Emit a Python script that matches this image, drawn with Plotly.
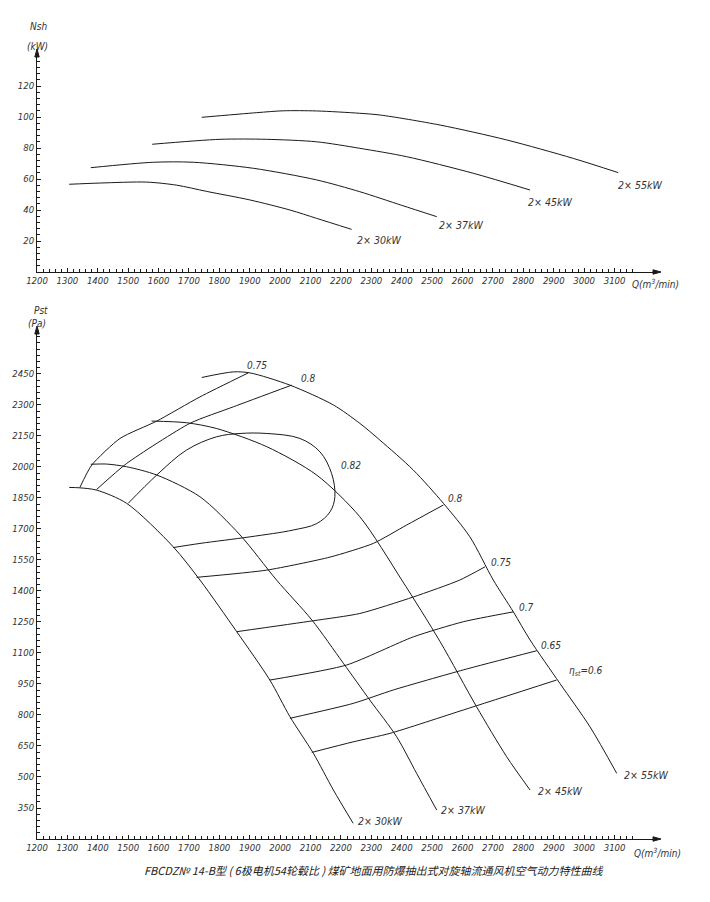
import plotly.graph_objects as go

# ---------------- data: shaft power Nsh (kW) vs Q (m3/min) ----------------
q30_n = [1306, 1408, 1561, 1660, 1758, 1900, 2032, 2120, 2235]
n30 = [56.6, 57.4, 58.0, 56.0, 52.0, 46.5, 40.0, 34.6, 27.5]
q37_n = [1377, 1583, 1714, 1912, 2120, 2262, 2400, 2515]
n37 = [67.3, 70.8, 70.8, 66.9, 59.4, 51.8, 43.0, 35.7]
q45_n = [1579, 1802, 1955, 2120, 2262, 2416, 2635, 2822]
n45 = [82.4, 85.6, 85.6, 84.0, 79.8, 74.4, 63.7, 52.9]
q55_n = [1742, 1923, 2010, 2120, 2262, 2328, 2526, 2745, 2964, 3112]
n55 = [99.8, 102.8, 104.0, 103.9, 102.4, 101.3, 94.8, 85.2, 73.3, 64.1]

# ---------------- data: static pressure Pst (Pa) vs Q ----------------
q30_p = [1306, 1341, 1396, 1495, 1648, 1736, 1857, 1966, 2032, 2109, 2175, 2240]
p30 = [1901, 1899, 1888, 1824, 1614, 1453, 1203, 969, 792, 615, 437, 276]
q37_p = [1377, 1429, 1495, 1594, 1736, 1868, 1988, 2104, 2208, 2295, 2383, 2449, 2515]
p37 = [2013, 2014, 2001, 1961, 1856, 1671, 1453, 1260, 1050, 872, 695, 517, 340]
q45_p = [1577, 1692, 1791, 1956, 2120, 2262, 2400, 2526, 2646, 2745, 2822]
p45 = [2222, 2214, 2186, 2098, 1961, 1759, 1453, 1155, 840, 598, 437]
q55_p = [1742, 1846, 1901, 2032, 2175, 2262, 2328, 2438, 2537, 2624, 2701, 2767, 2822, 2920, 3019, 3107]
p55 = [2433, 2460, 2455, 2396, 2300, 2211, 2130, 1985, 1824, 1662, 1453, 1299, 1163, 953, 743, 518]

# efficiency iso-lines
q_e75a = [1341, 1380, 1473, 1594, 1736, 1895]
p_e75a = [1901, 2009, 2138, 2222, 2339, 2455]
q_e80a = [1396, 1495, 1703, 1846, 2038]
p_e80a = [1891, 2017, 2211, 2291, 2396]
q_e82 = [1500, 1594, 1692, 1791, 1868, 1956, 2065, 2131, 2169, 2180, 2164, 2120, 2043, 1901, 1736, 1648]
p_e82 = [1824, 1961, 2082, 2146, 2162, 2162, 2138, 2073, 1969, 1856, 1783, 1726, 1695, 1662, 1630, 1610]
q_e80b = [1725, 1956, 2164, 2306, 2416, 2537]
p_e80b = [1466, 1501, 1564, 1630, 1719, 1816]
q_e75b = [1857, 2109, 2262, 2438, 2591, 2674]
p_e75b = [1203, 1256, 1291, 1371, 1453, 1517]
q_e70 = [1966, 2219, 2438, 2602, 2767]
p_e70 = [969, 1042, 1178, 1251, 1299]
q_e65 = [2032, 2240, 2372, 2602, 2844]
p_e65 = [784, 856, 921, 1018, 1111]
q_e60 = [2104, 2240, 2361, 2602, 2909]
p_e60 = [619, 670, 711, 824, 969]

x_ticks = list(range(1200, 3200, 100))
n_ticks = list(range(20, 140, 20))
p_ticks = list(range(350, 2600, 150))

power_labels = ["2× 30kW", "2× 37kW", "2× 45kW", "2× 55kW"]
eff_labels = ["0.75", "0.8", "0.82", "0.8", "0.75", "0.7", "0.65", "η<sub>st</sub>=0.6"]
title_text = "FBCDZ№ 14-B型 ( 6极电机54轮毂比 ) 煤矿地面用防爆抽出式对旋轴流通风机空气动力特性曲线"

# ---------------- figure ----------------
W, H = 710, 902
def px(x, y):
    return x / W, 1 - y / H

INK = "#1a1a1a"
FONT = "Liberation Sans Narrow, DejaVu Sans Condensed, Liberation Sans, sans-serif"

fig = go.Figure()

def add_line(q, v, ax, smooth=0.8):
    fig.add_trace(go.Scatter(
        x=q, y=v, mode="lines", xaxis="x" if ax == 1 else "x2", yaxis="y" if ax == 1 else "y2",
        line=dict(color=INK, width=1, shape="spline", smoothing=smooth),
        hoverinfo="skip", showlegend=False))

for q, v in [(q30_n, n30), (q37_n, n37), (q45_n, n45), (q55_n, n55)]:
    add_line(q, v, 1)
for q, v in [(q30_p, p30), (q37_p, p37), (q45_p, p45), (q55_p, p55)]:
    add_line(q, v, 2)
for q, v in [(q_e75a, p_e75a), (q_e80a, p_e80a), (q_e80b, p_e80b), (q_e75b, p_e75b),
             (q_e70, p_e70), (q_e65, p_e65), (q_e60, p_e60)]:
    add_line(q, v, 2, smooth=0.6)
add_line(q_e82, p_e82, 2, smooth=1.0)

X0, X1 = 37, 655
xdom = [X0 / W, X1 / W]
xrange_ = [1200, 3233]
tickfont = dict(family=FONT, size=9.5, color="#333", style="italic")

def xaxis_cfg(anchor):
    return dict(domain=xdom, range=xrange_, anchor=anchor, showline=True, linecolor=INK, linewidth=1,
                showgrid=False, zeroline=False, automargin=False, tickmode="array", tickvals=x_ticks,
                ticktext=[str(v) for v in x_ticks], ticks="inside", ticklen=4, tickcolor=INK,
                tickfont=tickfont,
                minor=dict(tickvals=list(range(1200, 3180, 20)), ticks="inside", ticklen=3, tickcolor=INK))

TOP_B, TOP_T = 272, 55
BOT_B, BOT_T = 839, 332

fig.update_layout(
    width=W, height=H, margin=dict(l=0, r=0, t=0, b=0, autoexpand=False),
    paper_bgcolor="white", plot_bgcolor="white", showlegend=False,
    font=dict(family=FONT, color="#333", style="italic"),
    xaxis=xaxis_cfg("y"),
    yaxis=dict(domain=[1 - TOP_B / H, 1 - TOP_T / H], range=[0, 140], anchor="x", showline=True,
               linecolor=INK, linewidth=1, showgrid=False, zeroline=False, automargin=False,
               tickmode="array", tickvals=n_ticks, ticks="inside", ticklen=4, tickcolor=INK,
               tickfont=tickfont,
               minor=dict(dtick=4, tick0=0, ticks="inside", ticklen=3, tickcolor=INK)),
    xaxis2=xaxis_cfg("y2"),
    yaxis2=dict(domain=[1 - BOT_B / H, 1 - BOT_T / H], range=[200, 2653], anchor="x2", showline=True,
                linecolor=INK, linewidth=1, showgrid=False, zeroline=False, automargin=False,
                tickmode="array", tickvals=p_ticks, ticks="inside", ticklen=4, tickcolor=INK,
                tickfont=tickfont,
                minor=dict(dtick=30, tick0=200, ticks="inside", ticklen=3, tickcolor=INK)),
)

# axis arrowheads as small filled triangles (paper coordinates)
def tri(pts):
    p = [px(x, y) for x, y in pts]
    path = "M {} {} L {} {} L {} {} Z".format(p[0][0], p[0][1], p[1][0], p[1][1], p[2][0], p[2][1])
    return dict(type="path", path=path, xref="paper", yref="paper", fillcolor=INK,
                line=dict(color=INK, width=1))

shapes = [
    tri([(X0, TOP_T - 6), (X0 - 2.2, TOP_T + 2), (X0 + 2.2, TOP_T + 2)]),
    tri([(X0, BOT_T - 6), (X0 - 2.2, BOT_T + 2), (X0 + 2.2, BOT_T + 2)]),
    tri([(X1 + 6, TOP_B), (X1 - 2, TOP_B - 2.2), (X1 - 2, TOP_B + 2.2)]),
    tri([(X1 + 6, BOT_B), (X1 - 2, BOT_B - 2.2), (X1 - 2, BOT_B + 2.2)]),
]

ann = []
def label(text, x, y, size=10, anchor="center"):
    xx, yy = px(x, y)
    ann.append(dict(text=text, x=xx, y=yy, xref="paper", yref="paper", showarrow=False,
                    xanchor=anchor, yanchor="middle",
                    font=dict(family=FONT, size=size, color="#333", style="italic")))

# axis titles
label("Nsh", 38, 27, 10)
label("(kW)", 37, 46, 10)
label("Pst", 41, 311, 10)
label("(Pa)", 37, 323, 10)
label("Q(m<sup>3</sup>/min)", 630, 284, 10, "left")
label("Q(m<sup>3</sup>/min)", 632, 853, 10, "left")

# power labels, top
for t, (x, y) in zip(power_labels, [(379, 240), (461, 225), (550, 202), (640, 185)]):
    label(t, x, y, 10.5)
# power labels, bottom
for t, (x, y) in zip(power_labels, [(380, 821), (463, 810), (560, 791), (646, 775)]):
    label(t, x, y, 10.5)
# efficiency labels
for t, (x, y) in zip(eff_labels, [(257, 365), (308, 378), (351, 465), (455, 498), (501, 562),
                                  (526, 607), (551, 645), (586, 671)]):
    label(t, x, y, 10)

tx, ty = px(374, 870)
ann.append(dict(text=title_text, x=tx, y=ty, xref="paper", yref="paper", showarrow=False,
                xanchor="center", yanchor="middle",
                font=dict(family="Noto Sans CJK SC", size=11, color="#222")))

fig.update_layout(annotations=ann, shapes=shapes)
fig.write_html("out.html", config=dict(displayModeBar=False),
               post_script="document.body.style.margin='0';document.body.style.overflow='hidden';")
